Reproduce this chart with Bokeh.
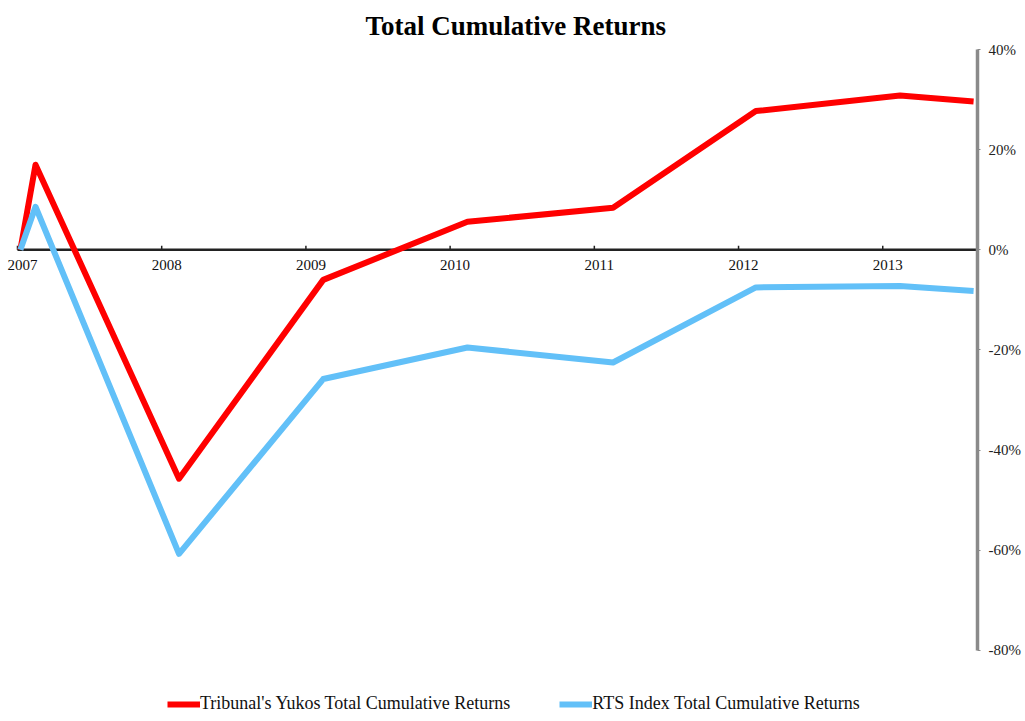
import math
from bokeh.plotting import figure
from bokeh.models import Range1d, FixedTicker, PrintfTickFormatter, Legend, LegendItem
from bokeh.core.properties import value
from bokeh.embed import file_html
from bokeh.resources import INLINE

# ---- data ----
dates = [2007.02, 2007.125, 2008.12, 2009.12, 2010.12, 2011.13, 2012.12, 2013.12, 2013.63]
yukos = [0.0, 17.0, -45.7, -6.0, 5.6, 8.4, 27.7, 30.8, 29.6]
rts = [0.0, 8.6, -60.7, -25.8, -19.5, -22.5, -7.5, -7.2, -8.2]
years = [2007, 2008, 2009, 2010, 2011, 2012, 2013]
year_labels = ["2007", "2008", "2009", "2010", "2011", "2012", "2013"]
y_ticks = [-80, -60, -40, -20, 0, 20, 40]
x_start, x_end = 2006.903, 2013.657
y_axis_min, y_axis_max = -80, 40
y_view_min = -92.78   # extra room under the axis for the legend
series_names = ["Tribunal's Yukos Total Cumulative Returns", "RTS Index Total Cumulative Returns"]

FONT = "Liberation Serif"
RED = "#FF0000"
BLUE = "#62C0F8"

p = figure(
    frame_width=974, frame_height=665,
    x_range=Range1d(x_start, x_end), y_range=Range1d(y_view_min, y_axis_max),
    x_axis_location=None, y_axis_location="right",
    output_backend="svg", toolbar_location=None,
    min_border_left=3, min_border_right=0, min_border_top=0, min_border_bottom=0,
    background_fill_color="white", border_fill_color="white",
)
p.outline_line_color = None
p.grid.visible = False

# title
p.title.text = "Total Cumulative Returns"
p.title.text_font = FONT
p.title.text_font_size = "27px"
p.title.text_font_style = "bold"
p.title.align = "left"
p.title.offset = 362
p.title.text_color = "black"
p.title.standoff = 17

# right axis
ax = p.yaxis[0]
ax.ticker = FixedTicker(ticks=y_ticks)
ax.bounds = (y_axis_min, y_axis_max)
ax.formatter = PrintfTickFormatter(format="%d%%")
ax.axis_line_color = "#8a8a8a"
ax.axis_line_width = 3.5
ax.major_tick_line_color = "#8a8a8a"
ax.major_tick_out = 3
ax.major_tick_in = 0
ax.minor_tick_line_color = None
ax.major_label_text_font = FONT
ax.major_label_text_font_size = "15px"
ax.major_label_text_color = "#222222"
ax.major_label_standoff = 8

# zero line acting as the x axis (from the first year to the right edge)
p.segment(x0=[years[0]], y0=[0], x1=[x_end], y1=[0], line_color="#222222", line_width=2.5)
p.ray(x=years, y=[0] * len(years), length=4, length_units="screen",
      angle=math.pi / 2, line_color="#222222", line_width=1.5)
p.text(x=years, y=[0] * len(years), text=year_labels, x_offset=5, y_offset=10,
       text_align="center", text_baseline="top", text_font=value(FONT),
       text_font_size="15px", text_color="#111111")

r1 = p.line(dates, yukos, line_color=RED, line_width=6, line_join="round")
r2 = p.line(dates, rts, line_color=BLUE, line_width=6, line_join="round")

legend = Legend(
    items=[LegendItem(label=series_names[0], renderers=[r1]),
           LegendItem(label=series_names[1], renderers=[r2])],
    orientation="horizontal", location=(164, 0),
    label_text_font=FONT, label_text_font_size="18px", label_text_color="#111111",
    glyph_width=33, glyph_height=20, label_standoff=0, spacing=49,
    padding=0, margin=0, border_line_color=None, background_fill_alpha=0,
)
p.add_layout(legend, "center")

open("out.html", "w").write(file_html(p, INLINE))
